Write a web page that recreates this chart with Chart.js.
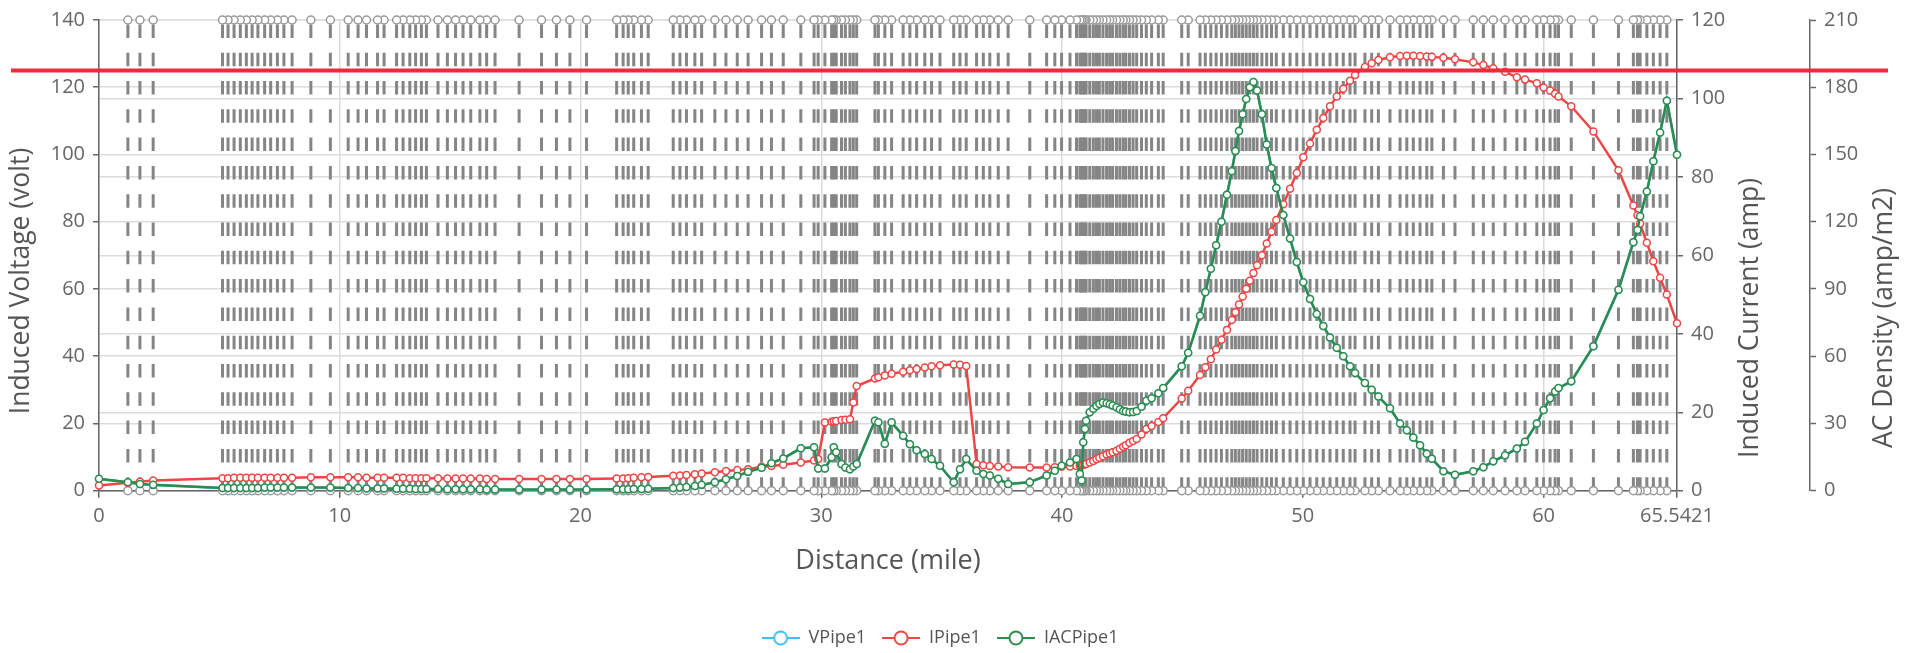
<!DOCTYPE html>
<html><head><meta charset="utf-8">
<script src="https://cdn.jsdelivr.net/npm/chart.js@4.4.1/dist/chart.umd.min.js"></script>
<style>html,body{margin:0;padding:0;background:#fff;}#wrap{width:1906px;height:653px;}</style>
</head><body><div id="wrap"><canvas id="c" width="1906" height="653"></canvas></div>
<script>
// ---------- data ----------
const distance = [0,1.2,1.7,2.25,5.13,5.36,5.61,5.87,6.12,6.36,6.6,6.88,7.13,7.41,7.68,8.02,8.8,9.61,10.35,10.76,11.11,11.57,11.84,12.36,12.63,12.91,13.15,13.39,13.6,14.08,14.47,14.81,15.12,15.44,15.82,16.1,16.45,17.45,18.38,19.0,19.56,20.25,21.5,21.77,21.98,22.21,22.53,22.81,23.85,24.13,24.4,24.75,25.03,25.58,26.04,26.51,26.96,27.52,27.93,28.42,29.15,29.7,29.87,30.15,30.43,30.52,30.62,30.84,31.0,31.19,31.33,31.47,32.23,32.37,32.64,32.92,33.4,33.68,33.96,34.3,34.58,34.93,35.5,35.76,36.02,36.45,36.73,37.0,37.35,37.76,38.66,39.36,39.7,39.98,40.33,40.6,40.74,40.81,40.88,40.95,41.0,41.15,41.3,41.43,41.55,41.7,41.85,41.98,42.1,42.26,42.4,42.54,42.65,42.8,42.95,43.1,43.3,43.5,43.72,44.0,44.2,44.97,45.24,45.73,45.95,46.18,46.4,46.62,46.85,47.05,47.2,47.35,47.5,47.65,47.8,47.95,48.1,48.3,48.5,48.7,48.9,49.19,49.47,49.75,50.02,50.3,50.58,50.85,51.13,51.41,51.68,51.96,52.17,52.58,52.86,53.14,53.62,54.04,54.32,54.59,54.87,55.15,55.36,55.84,56.32,57.08,57.5,57.91,58.4,58.89,59.23,59.72,60.0,60.27,60.48,60.62,61.15,62.07,63.11,63.73,63.9,64.01,64.29,64.56,64.84,65.12,65.5421];

const vPipe1 = [3.5,2.5,2.0,1.7,0.8,0.8,0.8,0.8,0.8,0.8,0.8,0.9,0.9,0.9,0.9,0.9,0.9,0.9,0.8,0.8,0.7,0.7,0.7,0.6,0.6,0.6,0.5,0.5,0.5,0.5,0.4,0.4,0.4,0.4,0.4,0.3,0.3,0.3,0.3,0.3,0.3,0.3,0.4,0.4,0.4,0.5,0.5,0.6,0.8,0.9,1.1,1.4,1.7,2.5,3.4,4.4,5.6,6.8,8.2,9.6,12.6,12.9,6.6,6.6,9.9,12.9,11.4,7.9,6.9,6.4,7.2,7.9,20.8,20.3,13.9,20.3,16.3,13.8,12.0,10.9,9.4,7.4,2.5,6.4,9.4,5.9,5.0,4.5,3.5,2.0,2.5,4.5,5.9,7.4,8.4,9.4,5.0,3.0,14.4,18.3,20.8,23.3,24.4,25.2,25.8,26.2,26.0,25.7,25.3,24.8,24.2,23.7,23.5,23.3,23.4,23.7,25.0,26.7,27.5,29.0,30.5,37.0,41.0,52,59,66,73,80,88,95,101,107,112,116.5,120,121.5,119,112,103,96,90,82,75,68,62,57,52.5,49,45.5,42.5,40,37,35,32,30,28,24.5,20,18,15.8,13.5,11,9.5,5.8,4.7,5.8,7,8.7,10.5,12.5,14.5,20,24,27.5,29.5,30.5,32.5,43,59.7,73.9,77.5,81.6,89,98,106.5,116,99.9];

const iPipe1 = [1.3,2.0,2.3,2.6,3.2,3.2,3.3,3.3,3.3,3.3,3.3,3.3,3.3,3.3,3.3,3.3,3.4,3.4,3.4,3.4,3.3,3.3,3.3,3.3,3.3,3.2,3.2,3.2,3.2,3.2,3.1,3.1,3.1,3.1,3.1,3.0,3.0,3.0,3.0,3.0,3.0,3.0,3.1,3.1,3.2,3.3,3.4,3.5,3.8,3.9,4.0,4.2,4.4,4.7,5.0,5.3,5.5,6.1,6.3,6.6,7.2,7.7,8.1,17.4,17.6,17.7,17.8,18.0,18.1,18.2,22.5,26.7,28.6,28.9,29.4,29.8,30.3,30.7,31.0,31.4,31.7,32.0,32.2,32.1,31.8,6.8,6.5,6.3,6.2,6.0,5.9,5.9,6.0,6.1,6.2,6.3,6.4,6.5,6.6,6.7,6.8,7.2,7.6,8.0,8.4,8.8,9.2,9.5,9.8,10.2,10.7,11.2,11.6,12.2,12.7,13.2,14.3,15.7,16.5,17.5,18.5,23.5,25.5,29.5,31.5,33.5,36,38.5,41,43.5,45.5,47.5,49.5,51.5,53.5,55.5,57.5,60,63,66,69,73,77,81,85,88.5,92,95,98,100.5,102.5,104.5,106,108,109,109.8,110.5,110.8,110.9,110.9,110.8,110.7,110.6,110.4,110,109.2,108.5,107.7,106.8,105.4,104.8,103.9,102.8,102,101.2,100.5,98,91.6,81.7,72.7,70.2,68.1,63.2,58.5,54.3,50,42.7];

const iacPipe1 = [5.3,3.8,3.0,2.6,1.2,1.2,1.2,1.2,1.2,1.2,1.2,1.4,1.4,1.4,1.4,1.4,1.4,1.4,1.2,1.2,1.0,1.0,1.0,0.9,0.9,0.9,0.8,0.8,0.8,0.8,0.6,0.6,0.6,0.6,0.6,0.5,0.5,0.5,0.5,0.5,0.5,0.5,0.6,0.6,0.6,0.8,0.8,0.9,1.2,1.4,1.7,2.1,2.6,3.8,5.1,6.6,8.4,10.2,12.3,14.4,18.9,19.4,9.9,9.9,14.9,19.4,17.1,11.9,10.4,9.6,10.8,11.9,31.2,30.5,20.9,30.5,24.5,20.7,18.0,16.4,14.1,11.1,3.8,9.6,14.1,8.9,7.5,6.8,5.3,3.0,3.8,6.8,8.9,11.1,12.6,14.1,7.5,4.5,21.6,27.5,31.2,35.0,36.6,37.8,38.7,39.3,39.0,38.6,38.0,37.2,36.3,35.6,35.3,35.0,35.1,35.6,37.5,40.1,41.3,43.5,45.8,55.5,61.5,78,88.5,99,109.5,120,132,142.5,151.5,160.5,168,174.8,180,182.3,178.5,168,154.5,144,135,123,112.5,102,93,85.5,78.8,73.5,68.3,63.8,60,55.5,52.5,48,45,42,36.8,30,27,23.7,20.3,16.5,14.3,8.7,7.1,8.7,10.5,13.1,15.8,18.8,21.8,30,36,41.3,44.3,45.8,48.8,64.5,89.6,110.9,116.3,122.4,133.5,147,159.8,174,149.9];

// pipe segment marks (stations) : every interior distance
const stations = distance.slice(1, distance.length - 1);

const xTicks = [0,10,20,30,40,50,60,65.5421];
const voltTicks = [0,20,40,60,80,100,120,140];
const ampTicks = [0,20,40,60,80,100,120];
const densityTicks = [0,30,60,90,120,150,180,210];
const thresholdVolt = 125;

const seriesNames = ['VPipe1','IPipe1','IACPipe1'];
const seriesColors = ['#41bff0','#ee4646','#2e8b4c'];
const axisTitles = ['Distance (mile)','Induced Voltage (volt)','Induced Current (amp)','AC Density (amp/m2)'];

// ---------- chart ----------
const FONT = "'Open Sans', 'DejaVu Sans', sans-serif";
const TICK_COLOR = '#666';
const TITLE_COLOR = '#555';
const GRID = '#dcdcdc';

function legendIcon(color){
  const c = document.createElement('canvas'); c.width = 38; c.height = 16;
  const g = c.getContext('2d');
  g.strokeStyle = color; g.lineWidth = 2;
  g.beginPath(); g.moveTo(0,8); g.lineTo(38,8); g.stroke();
  g.beginPath(); g.arc(19,8,6.5,0,Math.PI*2); g.fillStyle='#fff'; g.fill(); g.stroke();
  return c;
}
const icons = seriesColors.map(legendIcon);

const seriesData = [vPipe1, iPipe1, iacPipe1];
const seriesAxes = ['y','y1','y2'];
const seriesOrder = [3,2,1];
const datasets = seriesData.map((vals, k) => ({
  label: seriesNames[k],
  data: distance.map((d,i) => ({x:d, y:vals[i]})),
  yAxisID: seriesAxes[k],
  borderColor: seriesColors[k],
  backgroundColor: '#fff',
  borderWidth: 2.5,
  pointRadius: 3.5,
  pointBorderWidth: 1.5,
  pointBackgroundColor: '#fff',
  pointBorderColor: seriesColors[k],
  tension: 0,
  order: seriesOrder[k],
  clip: false
}));
stations.forEach(d => datasets.push({
  label: '_stem',
  data: [{x:d, y:voltTicks[0]}, {x:d, y:voltTicks[voltTicks.length-1]}],
  yAxisID: 'y',
  borderColor: '#858585',
  borderWidth: 3,
  borderDash: [13.5, 14.8],
  pointRadius: 4,
  pointBorderWidth: 1.5,
  pointBackgroundColor: '#fff',
  pointBorderColor: '#999',
  order: 10,
  clip: false
}));

function tickSetter(list){ return s => { s.ticks = list.map(v => ({value:v})); }; }
const tickFont = {family: FONT, size: 20};
const titleFont = {family: FONT, size: 27};
const Y_TITLE_SIZE = 26.5;

const overlay = {
  id: 'overlay',
  afterLayout(chart){
    // nudge the legend row down slightly
    const lg = chart.legend;
    if (lg) { lg.top += 4; lg.bottom += 4; }
  },
  afterDraw(chart){
    const ctx = chart.ctx;
    ctx.save();
    ctx.font = `${Y_TITLE_SIZE}px ${FONT}`; ctx.fillStyle = TITLE_COLOR;
    ctx.textAlign = 'center'; ctx.textBaseline = 'middle';
    [[chart.scales.y.left + 21, 281, axisTitles[1]],
     [chart.scales.y1.left + 73, 318, axisTitles[2]],
     [chart.scales.y2.left + 74, 318, axisTitles[3]]].forEach(([x, y, txt]) => {
      ctx.save(); ctx.translate(x, y); ctx.rotate(-Math.PI/2); ctx.fillText(txt, 0, 0); ctx.restore();
    });
    const y = chart.scales.y.getPixelForValue(thresholdVolt);
    ctx.strokeStyle = '#ee2b3b'; ctx.lineWidth = 4;
    ctx.beginPath(); ctx.moveTo(11, y); ctx.lineTo(1888, y); ctx.stroke();
    ctx.restore();
  }
};

new Chart(document.getElementById('c'), {
  type: 'line',
  data: {datasets},
  options: {
    responsive: false, animation: false, devicePixelRatio: 1,
    layout: {padding: {top: 20, left: 0, right: 26, bottom: 0}},
    plugins: {
      tooltip: {enabled: false},
      legend: {
        position: 'bottom',
        labels: {
          usePointStyle: true, pointStyleWidth: 38,
          font: {family: FONT, size: 18}, color: TITLE_COLOR, padding: 16,
          filter: item => item.datasetIndex < 3,
          sort: (a,b) => a.datasetIndex - b.datasetIndex,
          generateLabels: chart => {
            const items = Chart.defaults.plugins.legend.labels.generateLabels(chart);
            items.forEach(it => { if (it.datasetIndex < 3) it.pointStyle = icons[it.datasetIndex]; });
            return items;
          }
        }
      }
    },
    scales: {
      x: {
        type: 'linear', min: xTicks[0], max: xTicks[xTicks.length-1],
        afterBuildTicks: tickSetter(xTicks),
        ticks: {font: tickFont, color: TICK_COLOR, padding: 7, maxRotation: 0, autoSkip: false, callback: v => String(v)},
        grid: {color: GRID, lineWidth: 1.5, tickColor: TICK_COLOR, tickLength: 7, tickWidth: 1.5},
        border: {color: TICK_COLOR, width: 1.5},
        title: {display: true, text: axisTitles[0], font: titleFont, color: TITLE_COLOR, padding: {top: 0, bottom: 31.8}},
        afterFit: s => { s.height = 118.3; }
      },
      y: {
        position: 'left', min: 0, max: 140,
        afterBuildTicks: tickSetter(voltTicks),
        ticks: {font: tickFont, color: TICK_COLOR, padding: 8},
        grid: {color: GRID, lineWidth: 1.5, tickColor: TICK_COLOR, tickLength: 6, tickWidth: 1.5},
        border: {color: TICK_COLOR, width: 1.5},
        afterFit: s => { s.width = 99; }
      },
      y1: {
        position: 'right', weight: 0, min: 0, max: 120,
        afterBuildTicks: tickSetter(ampTicks),
        ticks: {font: tickFont, color: TICK_COLOR, padding: 8},
        grid: {color: GRID, lineWidth: 1.5, tickColor: TICK_COLOR, tickLength: 6, tickWidth: 1.5},
        border: {color: TICK_COLOR, width: 1.5},
        afterFit: s => { s.width = 133; }
      },
      y2: {
        position: 'right', weight: 1, min: 0, max: 210,
        afterBuildTicks: tickSetter(densityTicks),
        ticks: {font: tickFont, color: TICK_COLOR, padding: 8},
        grid: {drawOnChartArea: false, tickColor: TICK_COLOR, tickLength: 6, tickWidth: 1.5},
        border: {color: TICK_COLOR, width: 1.5},
        afterFit: s => { s.width = 70; }
      }
    }
  },
  plugins: [overlay]
});
</script></body></html>
